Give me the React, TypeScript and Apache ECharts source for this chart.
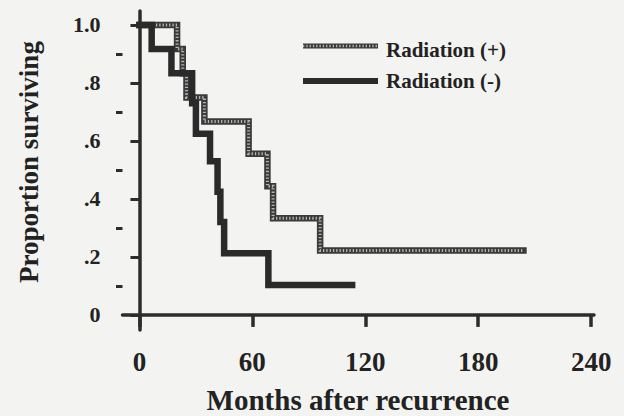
import React, { useEffect, useRef } from "react";
import * as echarts from "echarts";

const seriesNames = ["Radiation (+)", "Radiation (-)"];
const radPosMonths = [0, 20, 23, 25, 34.5, 58, 68, 71, 96, 204];
const radPosSurvival = [1, 0.917, 0.833, 0.75, 0.667, 0.556, 0.444, 0.333, 0.222, 0.222];
const radNegMonths = [0, 6.5, 17, 28, 30, 37.5, 41.5, 43, 45, 68.5, 113];
const radNegSurvival = [1, 0.917, 0.833, 0.73, 0.625, 0.53, 0.425, 0.32, 0.213, 0.103, 0.103];
const xTicks = [0, 60, 120, 180, 240];
const yMajorTicks = [0, 0.2, 0.4, 0.6, 0.8, 1.0];
const yMinorTicks = [0.1, 0.3, 0.5, 0.7, 0.9];
const xTitle = "Months after recurrence";
const yTitle = "Proportion surviving";

const INK = "#2c2c2c";
const FONT = "'Liberation Serif', 'Times New Roman', serif";

function pairs(xs: number[], ys: number[]) {
  return xs.map((x, i) => [x, ys[i]]);
}

export default function App() {
  const ref = useRef<HTMLDivElement>(null);
  useEffect(() => {
    if (!ref.current) return;
    const chart = echarts.init(ref.current, undefined, { renderer: "svg" });
    const posData = pairs(radPosMonths, radPosSurvival);
    const negData = pairs(radNegMonths, radNegSurvival);
    const yFmt = (v: number) =>
      v === 0 ? "0" : v >= 0.999 ? "1.0" : "." + Math.round(v * 10);
    const hatchStroke = "#b4b4b4";
    chart.setOption({
      animation: false,
      backgroundColor: "#f3f3f1",
      textStyle: { fontFamily: FONT },
      grid: { left: 122.5, right: 30, top: 11, bottom: 86, outerBoundsMode: "none" },
      xAxis: {
        type: "value",
        min: -9,
        max: 241.5,
        axisLine: { show: true, lineStyle: { color: INK, width: 3.5 } },
        axisTick: { show: true, customValues: xTicks, length: 12, lineStyle: { color: INK, width: 3.5 } },
        axisLabel: {
          customValues: xTicks,
          margin: 18,
          color: "#222",
          fontFamily: FONT,
          fontWeight: "bold",
          fontSize: 27,
        },
        splitLine: { show: false },
      },
      yAxis: [
        {
          type: "value",
          min: -0.052,
          max: 1.048,
          axisLine: { show: true, lineStyle: { color: INK, width: 3.5 } },
          axisTick: { show: true, customValues: yMajorTicks, length: 9, lineStyle: { color: INK, width: 3 } },
          axisLabel: {
            customValues: yMajorTicks,
            formatter: yFmt,
            margin: 22,
            color: "#222",
            fontFamily: FONT,
            fontWeight: "bold",
            fontSize: 22,
          },
          splitLine: { show: false },
        },
        {
          type: "value",
          min: -0.052,
          max: 1.048,
          position: "left",
          axisLine: { show: false },
          axisTick: { show: true, customValues: yMinorTicks, length: 6.5, lineStyle: { color: INK, width: 3 } },
          axisLabel: { show: false },
          splitLine: { show: false },
        },
      ],
      series: [
        {
          name: seriesNames[0],
          type: "line",
          step: "end",
          data: posData,
          showSymbol: false,
          lineStyle: { color: "#3a3a3a", width: 6.5, cap: "square", join: "miter" },
          silent: true,
          z: 2,
        },
        {
          name: seriesNames[0] + " hatch",
          type: "line",
          step: "end",
          data: posData,
          showSymbol: false,
          lineStyle: { color: hatchStroke, width: 3, type: [1.3, 2], cap: "butt", join: "miter" },
          silent: true,
          z: 3,
        },
        {
          name: seriesNames[1],
          type: "line",
          step: "end",
          data: negData,
          showSymbol: false,
          lineStyle: { color: "#2a2a2a", width: 6.5, cap: "square", join: "miter" },
          silent: true,
          z: 4,
        },
      ],
      graphic: [
        { type: "line", shape: { x1: 303, y1: 46, x2: 378, y2: 46 }, style: { stroke: "#3a3a3a", lineWidth: 5 } },
        {
          type: "line",
          shape: { x1: 303, y1: 46, x2: 378, y2: 46 },
          style: { stroke: hatchStroke, lineWidth: 2.5, lineDash: [1.3, 2] },
        },
        { type: "line", shape: { x1: 303, y1: 81, x2: 378, y2: 81 }, style: { stroke: "#2a2a2a", lineWidth: 6 } },
        {
          type: "text",
          x: 386,
          y: 50,
          style: { text: seriesNames[0], fill: "#222", fontFamily: FONT, fontWeight: "bold", fontSize: 21, align: "left", verticalAlign: "middle" },
        },
        {
          type: "text",
          x: 386,
          y: 81,
          style: { text: seriesNames[1], fill: "#222", fontFamily: FONT, fontWeight: "bold", fontSize: 21, align: "left", verticalAlign: "middle" },
        },
        {
          type: "text",
          x: 358,
          y: 400,
          style: { text: xTitle, fill: "#222", fontFamily: FONT, fontWeight: "bold", fontSize: 29, align: "center", verticalAlign: "middle" },
        },
        {
          type: "text",
          x: 29,
          y: 162,
          rotation: Math.PI / 2,
          style: { text: yTitle, fill: "#222", fontFamily: FONT, fontWeight: "bold", fontSize: 27, align: "center", verticalAlign: "middle" },
        },
      ],
    });
    return () => chart.dispose();
  }, []);
  return (
    <div
      ref={ref}
      style={{ position: "fixed", left: 0, top: 0, width: 624, height: 416 }}
    />
  );
}
